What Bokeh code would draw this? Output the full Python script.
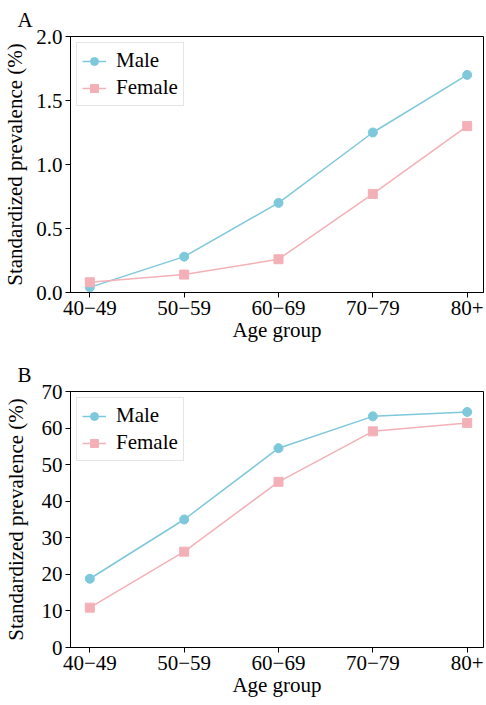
from bokeh.plotting import figure
from bokeh.models import FixedTicker, Legend
from bokeh.layouts import column
from bokeh.embed import file_html
from bokeh.resources import INLINE

# ---- data ----
age_groups = ["40\u221249", "50\u221259", "60\u221269", "70\u221279", "80+"]
x_pos = [0, 1, 2, 3, 4]

male_a = [0.04, 0.28, 0.70, 1.25, 1.70]
female_a = [0.08, 0.14, 0.26, 0.77, 1.30]
yticks_a = [0.0, 0.5, 1.0, 1.5, 2.0]

male_b = [18.8, 35.0, 54.5, 63.2, 64.4]
female_b = [10.9, 26.2, 45.3, 59.1, 61.4]
yticks_b = [0, 10, 20, 30, 40, 50, 60, 70]

MALE_COLOR = "#7ec8dc"
FEMALE_COLOR = "#f4b0b7"
FONT = "Liberation Serif"
FS = "21px"


def make_panel(letter, male, female, ymax, yticks, fmt, border_top, ylabel_standoff):
    p = figure(
        frame_width=413, frame_height=256,
        x_range=(-0.205, 4.173), y_range=(0, ymax),
        output_backend="svg", toolbar_location=None,
        min_border_left=63, min_border_right=1,
        min_border_top=border_top, min_border_bottom=58,
        title=letter,
    )
    p.title.text_font = FONT
    p.title.text_font_size = FS
    p.title.text_font_style = "normal"
    p.title.align = "left"
    p.title.offset = -53
    p.title.text_color = "black"

    p.xgrid.visible = False
    p.ygrid.visible = False
    p.outline_line_color = "black"
    p.outline_line_width = 1

    for ax in (p.xaxis[0], p.yaxis[0]):
        ax.axis_line_color = "black"
        ax.axis_line_width = 1
        ax.major_tick_line_color = "black"
        ax.major_tick_out = 5
        ax.major_tick_in = 0
        ax.minor_tick_line_color = None
        ax.major_label_text_font = FONT
        ax.major_label_text_font_size = FS
        ax.major_label_text_color = "black"
        ax.axis_label_text_font = FONT
        ax.axis_label_text_font_size = FS
        ax.axis_label_text_font_style = "normal"
        ax.axis_label_text_color = "black"
        ax.major_label_standoff = 3

    p.xaxis.ticker = FixedTicker(ticks=x_pos)
    p.xaxis.major_label_overrides = {x: lab for x, lab in zip(x_pos, age_groups)}
    p.xaxis.axis_label = "Age group"
    p.xaxis.axis_label_standoff = 0

    p.yaxis.ticker = FixedTicker(ticks=yticks)
    p.yaxis.major_label_overrides = {t: fmt.format(t) for t in yticks}
    p.yaxis.axis_label = "Standardized prevalence (%)"
    p.yaxis.axis_label_standoff = ylabel_standoff

    ml = p.line(x_pos, male, line_color=MALE_COLOR, line_width=1.5)
    ms = p.scatter(x_pos, male, marker="circle", size=9,
                   fill_color=MALE_COLOR, line_color=MALE_COLOR)
    fl = p.line(x_pos, female, line_color=FEMALE_COLOR, line_width=1.5)
    fs = p.scatter(x_pos, female, marker="square", size=9,
                   fill_color=FEMALE_COLOR, line_color=FEMALE_COLOR)

    legend = Legend(items=[("Male", [ml, ms]), ("Female", [fl, fs])],
                    location="top_left")
    legend.margin = 6
    legend.padding = 5
    legend.spacing = 2
    legend.glyph_width = 24
    legend.glyph_height = 20
    legend.label_height = 20
    legend.label_standoff = 10
    legend.label_text_font = FONT
    legend.label_text_font_size = FS
    legend.label_text_color = "black"
    legend.border_line_color = "#cccccc"
    legend.border_line_width = 1
    legend.background_fill_alpha = 0.8
    p.add_layout(legend)
    return p


pa = make_panel("A", male_a, female_a, 2.0, yticks_a, "{:.1f}", 29, 6)
pb = make_panel("B", male_b, female_b, 70, yticks_b, "{:d}", 41, 11)

layout = column(pa, pb)
open("out.html", "w").write(file_html(layout, INLINE))
